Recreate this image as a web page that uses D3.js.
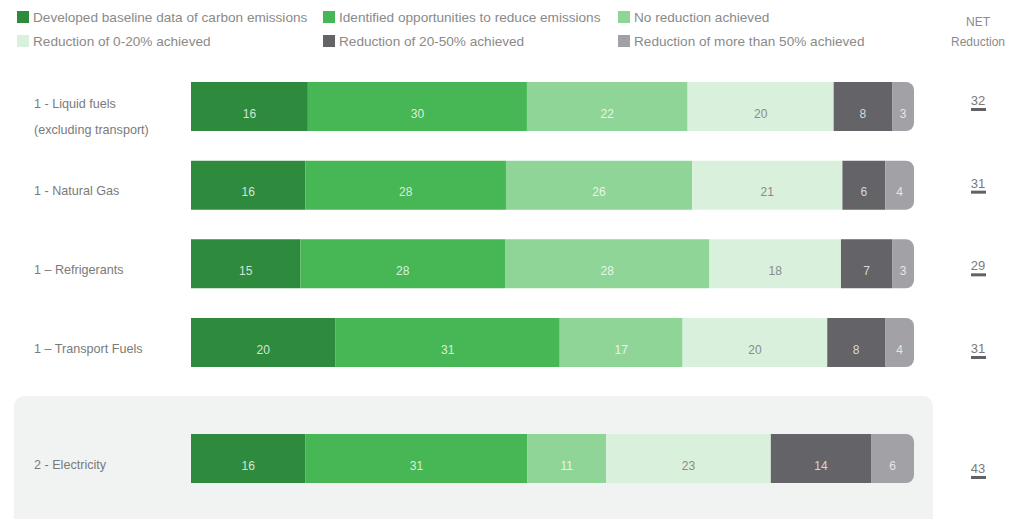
<!DOCTYPE html>
<html>
<head>
<meta charset="utf-8">
<script src="https://cdn.jsdelivr.net/npm/d3@7"></script>
<style>
  body { margin: 0; background: #fff; }
  svg { display: block; font-family: "Liberation Sans", Arial, sans-serif; }
</style>
</head>
<body>
<svg id="chart" width="1022" height="519"></svg>
<script>
// Emission-reduction progress by category (stacked to 100%)
const seriesNames = [
  "Developed baseline data of carbon emissions",
  "Identified opportunities to reduce emissions",
  "No reduction achieved",
  "Reduction of 0-20% achieved",
  "Reduction of 20-50% achieved",
  "Reduction of more than 50% achieved"
];
const seriesColors = ["#2e8a3c", "#46b754", "#8fd597", "#d9f1dc", "#636368", "#a2a2a6"];
const labelColors = ["rgba(255,255,255,0.8)", "rgba(255,255,255,0.8)", "rgba(255,255,255,0.8)", "#8a8a8a", "rgba(255,255,255,0.75)", "rgba(255,255,255,0.75)"];

const categories = ["liquid", "gas", "refrig", "transport", "electricity"];
const categoryLabels = [
  ["1 - Liquid fuels", "(excluding transport)"],
  ["1 - Natural Gas"],
  ["1 \u2013 Refrigerants"],
  ["1 \u2013 Transport Fuels"],
  ["2 - Electricity"]
];
const baseline    = [16, 16, 15, 20, 16];
const identified  = [30, 28, 28, 31, 31];
const noReduction = [22, 26, 28, 17, 11];
const red0to20    = [20, 21, 18, 20, 23];
const red20to50   = [8, 6, 7, 8, 14];
const redOver50   = [3, 4, 3, 4, 6];
const netReduction = [32, 31, 29, 31, 43];

const seriesValues = [baseline, identified, noReduction, red0to20, red20to50, redOver50];
const table = categories.map((c, i) => {
  const row = { key: c };
  seriesValues.forEach((vals, s) => { row["s" + s] = vals[i]; });
  return row;
});
const keys = seriesNames.map((_, s) => "s" + s);

const svg = d3.select("#chart");

// Legend
const legendCols = [17, 323, 618];
const legendRows = [17, 41];
seriesNames.forEach((name, s) => {
  const x = legendCols[s % 3], y = legendRows[Math.floor(s / 3)];
  svg.append("rect").attr("x", x).attr("y", y - 6).attr("width", 12).attr("height", 12)
    .attr("fill", seriesColors[s]);
  svg.append("text").attr("x", x + 16).attr("y", y + 5)
    .attr("font-size", 13.6).attr("fill", "#8a8a8a").text(name);
});

// NET header
svg.append("text").attr("x", 978).attr("y", 26).attr("text-anchor", "middle")
  .attr("font-size", 12).attr("fill", "#8a8a8a").text("NET");
svg.append("text").attr("x", 978).attr("y", 46).attr("text-anchor", "middle")
  .attr("font-size", 12).attr("fill", "#8a8a8a").text("Reduction");

// Highlight panel behind the electricity row
svg.append("rect").attr("x", 14).attr("y", 396).attr("width", 919).attr("height", 140)
  .attr("rx", 10).attr("fill", "#f1f2f2");

// Scales: the four scope-1 rows are evenly spaced, electricity sits apart in its panel
const x = d3.scaleLinear().domain([0, 1]).range([191, 914]);
const y = d3.scalePoint().domain(categories.slice(0, 4)).range([106.5, 342.5]);
const yPos = c => c === "electricity" ? 458.5 : y(c);
const barH = 49;

// The NET column runs on its own vertical rhythm
const yNet = d3.scalePoint().domain(categories.slice(0, 4)).range([108, 356]);
const yNetPos = c => c === "electricity" ? 476 : yNet(c);

const stack = d3.stack().keys(keys).offset(d3.stackOffsetExpand);
const layers = stack(table);

const radius = 8;
function segPath(x0, x1, yc, roundRight) {
  const top = yc - barH / 2, bot = yc + barH / 2;
  if (!roundRight) return `M${x0},${top}H${x1}V${bot}H${x0}Z`;
  const r = Math.min(radius, x1 - x0);
  return `M${x0},${top}H${x1 - r}A${r},${r} 0 0 1 ${x1},${top + r}V${bot - r}A${r},${r} 0 0 1 ${x1 - r},${bot}H${x0}Z`;
}

layers.forEach((layer, s) => {
  const g = svg.append("g");
  layer.forEach(d => {
    const c = d.data.key, yc = yPos(c);
    const x0 = x(d[0]), x1 = x(d[1]);
    g.append("path").attr("d", segPath(x0, x1, yc, s === keys.length - 1))
      .attr("fill", seriesColors[s]);
    g.append("text").attr("x", (x0 + x1) / 2).attr("y", yc + 11)
      .attr("text-anchor", "middle").attr("font-size", 12)
      .attr("fill", labelColors[s]).text(d.data["s" + s]);
  });
});

// Category labels
categories.forEach((c, i) => {
  const lines = categoryLabels[i];
  const yc = yPos(c);
  lines.forEach((t, j) => {
    const ty = lines.length > 1 ? yc + 1 + j * 26 : yc + 10;
    svg.append("text").attr("x", 34).attr("y", ty)
      .attr("font-size", 12.6).attr("fill", "#7a7a7a").text(t);
  });
});

// NET reduction values with underline marks
categories.forEach((c, i) => {
  const yu = yNetPos(c);
  svg.append("text").attr("x", 978).attr("y", yu - 3).attr("text-anchor", "middle")
    .attr("font-size", 13).attr("fill", "#7a7a7a").text(netReduction[i]);
  svg.append("rect").attr("x", 971).attr("y", yu).attr("width", 15).attr("height", 3)
    .attr("fill", "#616166");
});
</script>
</body>
</html>
